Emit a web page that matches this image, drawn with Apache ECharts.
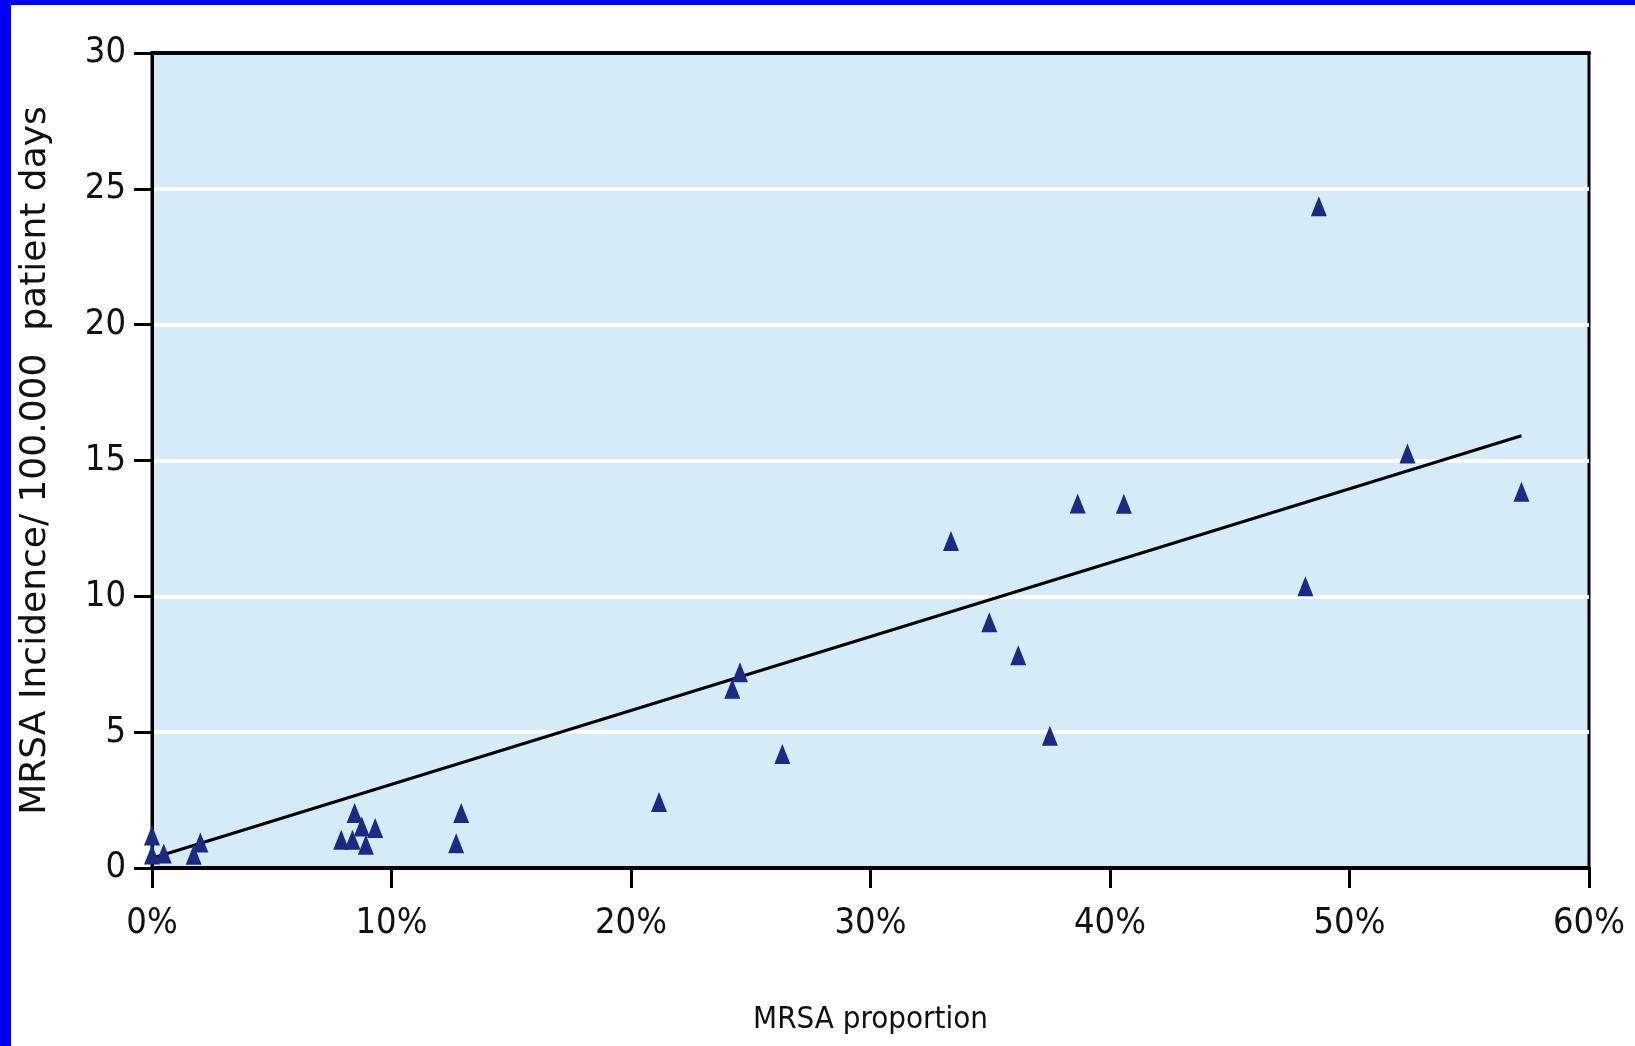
<!DOCTYPE html>
<html>
<head>
<meta charset="utf-8">
<script src="https://cdn.jsdelivr.net/npm/echarts@6/dist/echarts.min.js"></script>
<style>
html,body{margin:0;padding:0;background:#fff;}
#c{width:1635px;height:1046px;}
</style>
</head>
<body>
<div id="c"></div>
<script>
// MRSA proportion (%) and MRSA incidence per 100,000 patient days
var proportion = [0, 0, 0.49, 1.74, 2.02, 7.9, 8.37, 8.46, 8.76, 8.93, 9.32, 12.7, 12.91,
  21.17, 24.23, 24.55, 26.32, 33.36, 34.96, 36.17, 37.49, 38.65, 40.58, 48.16, 48.72, 52.42, 57.18];
var incidence = [1.2, 0.5, 0.53, 0.49, 0.94, 1.04, 1.04, 2.02, 1.53, 0.86, 1.47, 0.91, 2.02,
  2.43, 6.6, 7.21, 4.2, 12.04, 9.05, 7.83, 4.87, 13.42, 13.41, 10.37, 24.36, 15.26, 13.85];
// linear trend line end points
var trendX = [0, 57.18];
var trendY = [0.36, 15.91];
var xTicks = [0, 10, 20, 30, 40, 50, 60];
var yTicks = [0, 5, 10, 15, 20, 25, 30];

var FONT = '"Liberation Sans Narrow", "DejaVu Sans Condensed", sans-serif';
var FONT_Y = '"DejaVu Sans", sans-serif';

var points = proportion.map(function (p, i) { return [p, incidence[i]]; });
var trend = trendX.map(function (x, i) { return [x, trendY[i]]; });

var chart = echarts.init(document.getElementById('c'));
chart.setOption({
  animation: false,
  backgroundColor: '#ffffff',
  graphic: [
    {type: 'rect', shape: {x: 0, y: 0, width: 11, height: 1046}, style: {fill: '#0000ff'}, z: 100},
    {type: 'rect', shape: {x: 0, y: 0, width: 1635, height: 5}, style: {fill: '#0000ff'}, z: 100}
  ],
  grid: {
    left: 152, top: 53, right: 46, bottom: 178,
    show: true, backgroundColor: '#d6ebf8', borderColor: '#000', borderWidth: 3
  },
  xAxis: [{
    type: 'value', min: xTicks[0], max: xTicks[xTicks.length - 1], interval: 10,
    name: 'MRSA proportion', nameLocation: 'middle', nameGap: 136,
    nameTextStyle: {fontFamily: FONT, fontSize: 31, color: '#111'},
    axisLine: {show: true, onZero: false, lineStyle: {color: '#000', width: 4}},
    axisTick: {show: true, inside: false, length: 20, lineStyle: {color: '#000', width: 3}},
    axisLabel: {formatter: '{value}%', fontFamily: FONT, fontSize: 36, color: '#111', margin: 38},
    splitLine: {show: false}
  }, {
    type: 'value', position: 'top', min: xTicks[0], max: xTicks[xTicks.length - 1], interval: 10,
    axisLine: {show: true, onZero: false, lineStyle: {color: '#000', width: 4}},
    axisTick: {show: false}, axisLabel: {show: false}, splitLine: {show: false}
  }],
  yAxis: {
    type: 'value', min: yTicks[0], max: yTicks[yTicks.length - 1], interval: 5,
    name: 'MRSA Incidence/ 100.000  patient days', nameLocation: 'middle', nameRotate: 90, nameGap: 98,
    nameTextStyle: {fontFamily: FONT_Y, fontSize: 36, color: '#111'},
    axisLine: {show: true, lineStyle: {color: '#000', width: 3}},
    axisTick: {show: true, inside: false, length: 18, lineStyle: {color: '#000', width: 3}},
    axisLabel: {fontFamily: FONT, fontSize: 36, color: '#111', margin: 26},
    splitLine: {show: true, showMinLine: false, showMaxLine: false, lineStyle: {color: '#ffffff', width: 4}}
  },
  series: [
    {
      type: 'line', data: trend, symbol: 'none', z: 2,
      lineStyle: {color: '#000', width: 3}, silent: true
    },
    {
      type: 'scatter', data: points, symbol: 'triangle', symbolSize: [16, 20], z: 3,
      itemStyle: {color: '#1b2a84', opacity: 1}
    }
  ]
});
</script>
</body>
</html>
